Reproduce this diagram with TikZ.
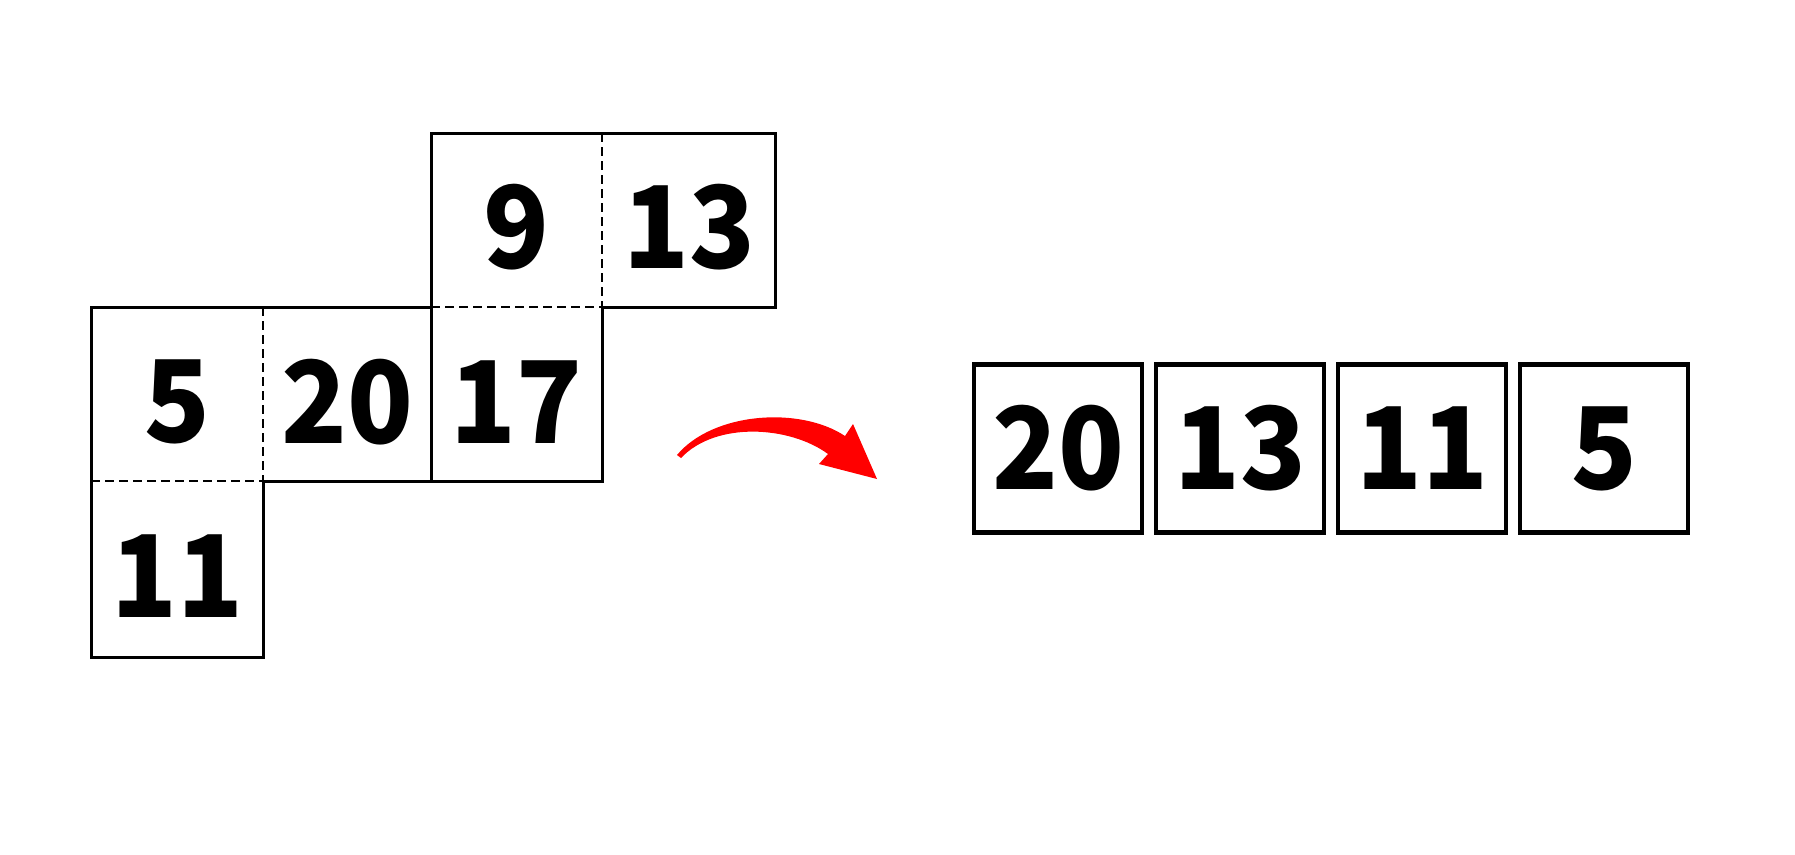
\documentclass[tikz,border=0pt]{standalone}
\usepackage{fontspec}
\newfontfamily\numfont{Noto Sans CJK SC}
\tikzset{
  numtext/.style={font=\numfont\bfseries\fontsize{114}{114}\selectfont, xscale=0.95},
  num/.style={numtext, inner sep=0pt, anchor=center},
  rbox/.style={draw=black, line width=4.4pt, minimum width=168pt, minimum height=168pt, inner sep=0pt},
  solidline/.style={draw=black, line width=3pt, line cap=rect},
  dashline/.style={draw=black, line width=2.6pt, dash pattern=on 9pt off 5pt},
}
\begin{document}
\begin{tikzpicture}[x=1pt,y=-1pt]
\useasboundingbox (0,0) rectangle (1795,854);
% left cells text
\node[num] (n9)  at (516,227) {9};
\node[num] (n13) at (689,227) {13};
\node[num] (n5)  at (177,402) {5};
\node[num] (n20) at (347,402) {20};
\node[num] (n17) at (516,402) {17};
\node[num] (n11) at (177,576) {11};
% solid outline
\draw[solidline] (431,481) -- (431,133) -- (775,133) -- (775,307) -- (602,307) -- (602,481) -- (263,481) -- (263,657) -- (91,657) -- (91,307) -- (431,307);
% dashed inner lines
\draw[dashline] (602,133) -- (602,307);
\draw[dashline] (431,307) -- (602,307);
\draw[dashline] (263,307) -- (263,481);
\draw[dashline] (431,307) -- (431,481);
\draw[dashline] (91,481) -- (263,481);
% arrow
\fill[red] (677,455) .. controls (713,412) and (800,406) .. (845,436)
  -- (853,424) -- (877,479) -- (819,464) -- (828,454)
  .. controls (790,426) and (716,421) .. (681,458) -- cycle;
% right boxes
\node[rbox] (r1) at (1058,448.5) {};
\node[rbox] (r2) at (1240,448.5) {};
\node[rbox] (r3) at (1422,448.5) {};
\node[rbox] (r4) at (1604,448.5) {};
\node[num] (t1) at (r1.center) {20};
\node[num] (t2) at (r2.center) {13};
\node[num] (t3) at (r3.center) {11};
\node[num] (t4) at (r4.center) {5};
\end{tikzpicture}
\end{document}
